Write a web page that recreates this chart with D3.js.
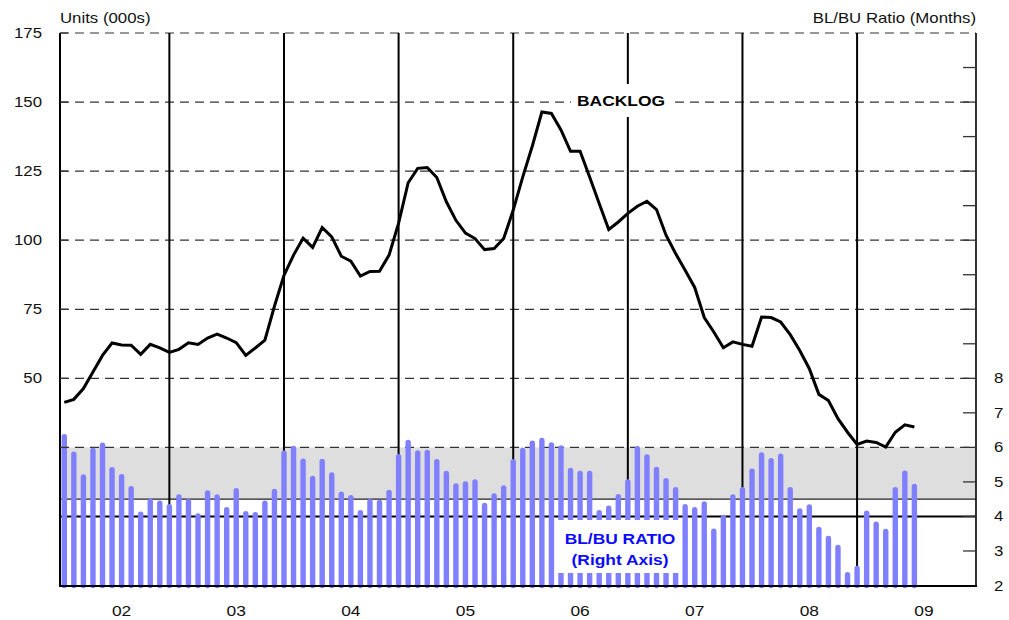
<!DOCTYPE html>
<html>
<head>
<meta charset="utf-8">
<script src="https://cdn.jsdelivr.net/npm/d3@7"></script>
<style>
  body { margin: 0; background: #fff; }
  svg { display: block; font-family: "Liberation Sans", Arial, sans-serif; }
</style>
</head>
<body>
<div id="chart"></div>
<script>
// monthly, Jan 2002 - Jun 2009
var months = d3.timeMonth.range(new Date(2002, 0, 1), new Date(2009, 6, 1));
var years = [2002, 2003, 2004, 2005, 2006, 2007, 2008, 2009];

// backlog, units (000s) - left axis
var backlog = [
  41.3, 42.4, 46.3, 52.3, 58.3, 62.8, 62.1, 62.0, 58.7, 62.3, 61.0, 59.4,
  60.5, 62.9, 62.3, 64.6, 66.0, 64.6, 62.9, 58.3, 61.0, 63.8, 76.1, 87.3,
  94.6, 100.7, 97.4, 104.6, 101.2, 94.2, 92.4, 87.0, 88.7, 88.8, 94.6, 106.2,
  120.8, 126.0, 126.3, 122.7, 113.9, 107.2, 102.6, 100.6, 96.6, 97.0, 100.6, 110.9,
  122.9, 134.1, 146.4, 145.9, 139.9, 132.2, 132.2, 122.9, 113.3, 103.9, 106.6, 109.7,
  112.3, 114.1, 111.1, 101.8, 95.2, 89.1, 82.9, 72.0, 66.8, 61.1, 63.2, 62.3,
  61.6, 72.2, 72.0, 70.4, 65.8, 60.1, 53.5, 44.2, 42.0, 35.4, 30.5, 26.1,
  27.3, 26.8, 25.1, 30.5, 33.2, 32.4
];

// BL/BU ratio, months - right axis
var ratio = [
  6.39, 5.88, 5.22, 5.99, 6.14, 5.43, 5.23, 4.88, 4.14, 4.53, 4.46, 4.36,
  4.64, 4.51, 4.09, 4.76, 4.64, 4.27, 4.82, 4.16, 4.13, 4.46, 4.80, 5.91,
  6.05, 5.68, 5.18, 5.67, 5.28, 4.72, 4.62, 4.19, 4.51, 4.48, 4.77, 5.81,
  6.22, 5.92, 5.93, 5.66, 5.32, 4.96, 5.02, 5.08, 4.40, 4.67, 4.90, 5.66,
  5.99, 6.20, 6.28, 6.15, 6.06, 5.41, 5.32, 5.32, 4.19, 4.32, 4.65, 5.08,
  6.04, 5.80, 5.44, 5.11, 4.85, 4.36, 4.27, 4.44, 3.65, 4.05, 4.64, 4.85,
  5.39, 5.86, 5.69, 5.82, 4.85, 4.24, 4.35, 3.70, 3.44, 3.18, 2.39, 2.57,
  4.17, 3.85, 3.64, 4.85, 5.33, 4.95
];

var leftTicks = [50, 75, 100, 125, 150, 175];
var gridValues = [25, 50, 75, 100, 125, 150, 175];
var rightTicks = [2, 3, 4, 5, 6, 7, 8];
var band = [4.5, 6];

var w = 1009, h = 620;
var pLeft = 60, pRight = 976, pTop = 33, pBottom = 586;
var sx = 1.2; // text is drawn a bit wide in the original

var svg = d3.select('#chart').append('svg')
    .attr('width', w)
    .attr('height', h);

var x = d3.scaleLinear().domain([-0.45, 95.45]).range([pLeft, pRight]);
var yL = d3.scaleLinear().domain([0, 175]).range([516.5, pTop]);
var yR = d3.scaleLinear().domain([2, 18]).range([585.5, pTop]);

var text = function(g, px, py, s, anchor, size, weight, color) {
  return g.append('text')
    .attr('transform', 'translate(' + px + ',' + py + ') scale(' + sx + ',1)')
    .attr('text-anchor', anchor)
    .attr('font-size', size + 'px')
    .attr('font-weight', weight || 'normal')
    .attr('fill', color || '#111')
    .text(s);
};

// gray band
svg.append('rect')
    .attr('x', pLeft)
    .attr('width', pRight - pLeft)
    .attr('y', yR(band[1]))
    .attr('height', yR(band[0]) - yR(band[1]))
    .attr('fill', '#dedede');

// dashed grid
svg.selectAll('.grid')
    .data(gridValues)
    .enter()
    .append('line')
    .attr('x1', pLeft).attr('x2', pRight)
    .attr('y1', function(d) { return yL(d); })
    .attr('y2', function(d) { return yL(d); })
    .attr('stroke', '#333')
    .attr('stroke-width', 1.2)
    .attr('stroke-dasharray', '9,6');

// band bottom and the 4-month line
svg.append('line')
    .attr('x1', pLeft).attr('x2', pRight)
    .attr('y1', yR(band[0])).attr('y2', yR(band[0]))
    .attr('stroke', '#222').attr('stroke-width', 1.2);
svg.append('line')
    .attr('x1', pLeft).attr('x2', pRight)
    .attr('y1', yR(4)).attr('y2', yR(4))
    .attr('stroke', '#000').attr('stroke-width', 2);

// year separators (after December)
var decIdx = years.slice(0, -1).map(function(y) { return (y - 2002) * 12 + 11; });
svg.selectAll('.sep')
    .data(decIdx)
    .enter()
    .append('line')
    .attr('x1', function(d) { return x(d); })
    .attr('x2', function(d) { return x(d); })
    .attr('y1', pTop).attr('y2', pBottom)
    .attr('stroke', '#000')
    .attr('stroke-width', 2);

// ratio bars
var capR = 2.7;
svg.selectAll('.bar')
    .data(ratio)
    .enter()
    .append('line')
    .attr('x1', function(d, i) { return x(i); })
    .attr('x2', function(d, i) { return x(i); })
    .attr('y1', yR(2))
    .attr('y2', function(d) { return yR(d) + capR; })
    .attr('stroke', '#8080ff')
    .attr('stroke-width', 5.4)
    .attr('stroke-linecap', 'round');

// backlog line
var line = d3.line()
    .x(function(d, i) { return x(i); })
    .y(function(d) { return yL(d); });
svg.append('path')
    .datum(backlog)
    .attr('d', line)
    .attr('fill', 'none')
    .attr('stroke', '#000')
    .attr('stroke-width', 3)
    .attr('stroke-linejoin', 'miter');

// axes
svg.append('line')
    .attr('x1', pLeft).attr('x2', pLeft).attr('y1', pTop).attr('y2', pBottom)
    .attr('stroke', '#000').attr('stroke-width', 2);
svg.append('line')
    .attr('x1', pRight).attr('x2', pRight).attr('y1', pTop).attr('y2', pBottom)
    .attr('stroke', '#000').attr('stroke-width', 1.6);
svg.append('line')
    .attr('x1', pLeft - 1).attr('x2', pRight + 1).attr('y1', pBottom).attr('y2', pBottom)
    .attr('stroke', '#000').attr('stroke-width', 2);

// right inner ticks
svg.selectAll('.rtick')
    .data(d3.range(3, 18))
    .enter()
    .append('line')
    .attr('x1', pRight - 13).attr('x2', pRight)
    .attr('y1', function(d) { return yR(d); })
    .attr('y2', function(d) { return yR(d); })
    .attr('stroke', '#333')
    .attr('stroke-width', 1.3);

// left inner ticks
svg.selectAll('.ltick')
    .data(gridValues)
    .enter()
    .append('line')
    .attr('x1', pLeft).attr('x2', pLeft + 8)
    .attr('y1', function(d) { return yL(d); })
    .attr('y2', function(d) { return yL(d); })
    .attr('stroke', '#333')
    .attr('stroke-width', 1.3);

// labels
leftTicks.forEach(function(d) { text(svg, 42, yL(d) + 5, d, 'end', 14); });
rightTicks.forEach(function(d) { text(svg, 994, yR(d) + 5, d, 'start', 14); });
years.forEach(function(y) {
  text(svg, x((y - 2002) * 12 + 6), 616, String(y).slice(2), 'middle', 14.5);
});
text(svg, pLeft, 23, 'Units (000s)', 'start', 14);
text(svg, pRight, 23, 'BL/BU Ratio (Months)', 'end', 14);

// series labels on white boxes
svg.append('rect')
    .attr('x', 571).attr('y', 84).attr('width', 98).attr('height', 33)
    .attr('fill', '#fff');
text(svg, 621, 105.5, 'BACKLOG', 'middle', 14.5, 'bold', '#000');

svg.append('rect')
    .attr('x', 557).attr('y', 520).attr('width', 125).attr('height', 53)
    .attr('fill', '#fff');
text(svg, 620, 543.5, 'BL/BU RATIO', 'middle', 14.5, 'bold', '#0a0aff');
text(svg, 620, 564.5, '(Right Axis)', 'middle', 14.5, 'bold', '#0a0aff');
</script>
</body>
</html>
